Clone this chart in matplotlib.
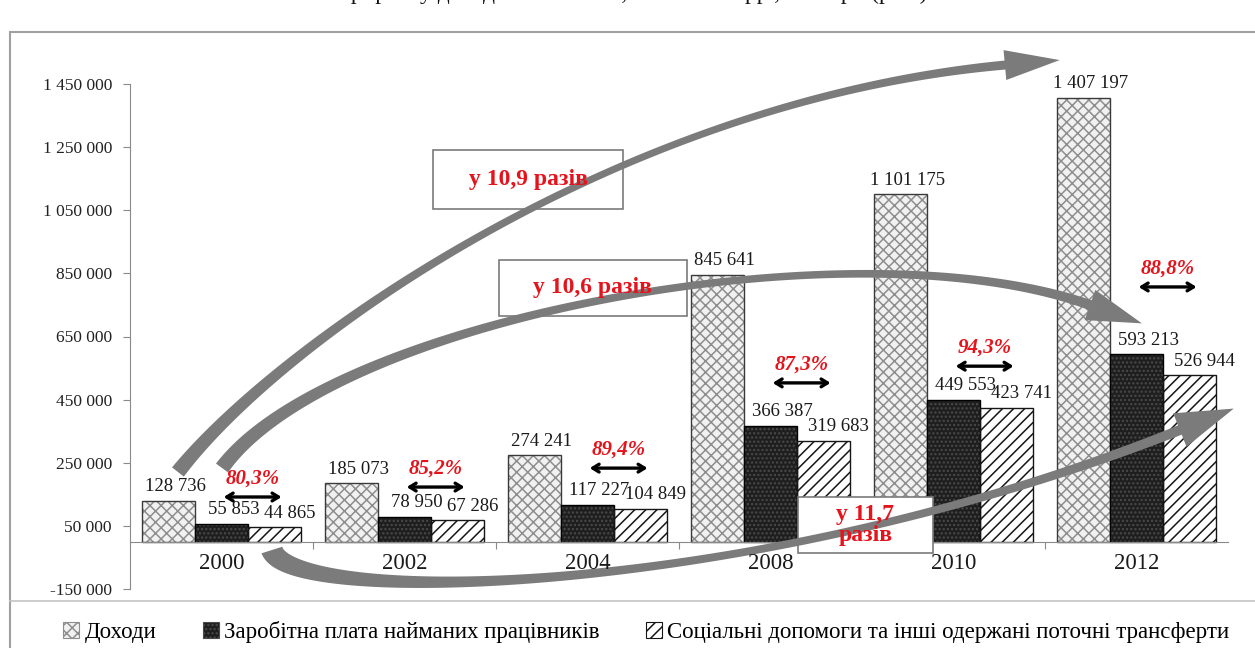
import numpy as np
import matplotlib
matplotlib.use("Agg")
import matplotlib.pyplot as plt
from matplotlib.patches import Rectangle, Polygon, Patch
from matplotlib.lines import Line2D

# ---- data (млн грн) ----
years = ["2000", "2002", "2004", "2008", "2010", "2012"]
income = [128736, 185073, 274241, 845641, 1101175, 1407197]
wages = [55853, 78950, 117227, 366387, 449553, 593213]
social = [44865, 67286, 104849, 319683, 423741, 526944]
series_names = ["Доходи",
                "Заробітна плата найманих працівників",
                "Соціальні допомоги та інші одержані поточні трансферти"]
y_ticks = [-150000, 50000, 250000, 450000, 650000, 850000, 1050000, 1250000, 1450000]

# vertical placement of the share markers (value units)
share_arrow_y = [141500, 173000, 233000, 503000, 556000, 807000]

SERIF = "Liberation Serif"
RED = "#e5141c"
GREY_ARROW = "#7b7b7b"


def fmt(v):
    return f"{v:,}".replace(",", " ")


def pct(a, b):
    return f"{a / b * 100:.1f}%".replace(".", ",")


def times(a, b):
    return f"{a / b:.1f}".replace(".", ",")


W, H = 1255, 648
fig = plt.figure(figsize=(W / 100, H / 100), dpi=100)
fig.patch.set_facecolor("white")
ax = fig.add_axes([130 / W, 1 - 589 / H, 1098 / W, 505 / H])
ax.set_xlim(-0.5, len(years) - 0.5)
ax.set_ylim(-150000, 1450000)
ax.set_facecolor("none")

# ---- bars ----
x = np.arange(len(years))
bw = 0.29
offsets = [-bw, 0.0, bw]
label_shift = [7, 12, 15]  # label nudges to the right, in points
styles = [
    dict(face="#f1f1f1", hatch="xxx", hcol="#8e8e8e", edge="#3a3a3a"),
    dict(face="#1e1e1e", hatch="....", hcol="#4a4a4a", edge="#000000"),
    dict(face="white", hatch="///", hcol="#161616", edge="#161616"),
]
plt.rcParams["hatch.linewidth"] = 1.1
for vals, off, st, dx in zip([income, wages, social], offsets, styles, label_shift):
    ax.bar(x + off, vals, bw, color=st["face"], edgecolor=st["hcol"],
           hatch=st["hatch"], linewidth=0, zorder=2)
    ax.bar(x + off, vals, bw, fill=False, edgecolor=st["edge"],
           linewidth=1.0, zorder=2.1)
    for xi, v in zip(x + off, vals):
        ax.annotate(fmt(v), (xi, v), xytext=(dx * 0.72, 4), textcoords="offset points",
                    ha="center", va="bottom", fontsize=13.5, family=SERIF,
                    color="#1a1a1a", zorder=6)

# ---- axes styling ----
for s in ["top", "right"]:
    ax.spines[s].set_visible(False)
ax.spines["left"].set_color("#8a8a8a")
ax.spines["bottom"].set_position(("data", 0))
ax.spines["bottom"].set_color("#8a8a8a")
ax.set_yticks(y_ticks)
ax.set_yticklabels([fmt(v) for v in y_ticks],
                   fontsize=12.5, family=SERIF, color="#222222")
ax.tick_params(axis="y", direction="out", length=5, color="#8a8a8a", pad=8)
ax.set_xticks(x[:-1] + 0.5)
ax.set_xticklabels([])
ax.tick_params(axis="x", direction="out", length=5, color="#8a8a8a")
for xi, lab in zip(x, years):
    ax.text(xi, -70000, lab, ha="center", va="center", fontsize=16.5,
            family=SERIF, color="#1a1a1a", zorder=6)

# ---- share markers (social / wages) ----
for xi, w_, s_, yy in zip(x, wages, social, share_arrow_y):
    cx = xi + 0.17
    ax.annotate("", xy=(cx - 0.158, yy), xytext=(cx + 0.158, yy),
                arrowprops=dict(arrowstyle="<->,head_length=0.45,head_width=0.28",
                                lw=2.4, color="black", shrinkA=0, shrinkB=0),
                zorder=6)
    ax.annotate(pct(s_, w_), (cx, yy), xytext=(0, 6), textcoords="offset points",
                ha="center", va="bottom", fontsize=15, family=SERIF,
                weight="bold", style="italic", color=RED, zorder=6)

# ---- growth boxes ----
boxes = [
    ((1.156, 1053960), (2.194, 1240890), "у " + times(income[-1], income[0]) + " разів"),
    ((1.516, 714950), (2.544, 892380), "у " + times(wages[-1], wages[0]) + " разів"),
    ((3.150, -35930), (3.888, 141500), "у " + times(social[-1], social[0]) + "\nразів"),
]
for (x0, y0), (x1, y1), txt in boxes:
    ax.add_patch(Rectangle((x0, y0), x1 - x0, y1 - y0, facecolor="white",
                           edgecolor="#7a7a7a", lw=1.2, zorder=3, clip_on=False))
    ax.text((x0 + x1) / 2, (y0 + y1) / 2, txt, ha="center", va="center",
            fontsize=17, family=SERIF, weight="bold", color=RED, zorder=7,
            linespacing=1.0)


# ---- curved growth arrows ----
def curved_arrow(pts, widths, head_len, head_w, zorder=4):
    P = ax.transData.transform(np.array(pts, dtype=float))
    P0, P1, P2, P3 = P
    t = np.linspace(0, 1, 240)[:, None]
    B = (1 - t) ** 3 * P0 + 3 * (1 - t) ** 2 * t * P1 + 3 * (1 - t) * t ** 2 * P2 + t ** 3 * P3
    dB = 3 * (1 - t) ** 2 * (P1 - P0) + 6 * (1 - t) * t * (P2 - P1) + 3 * t ** 2 * (P3 - P2)
    tang = dB / np.linalg.norm(dB, axis=1)[:, None]
    nrm = np.column_stack([-tang[:, 1], tang[:, 0]])
    a, b, c = widths
    tt = t[:, 0]
    w = a * (1 - tt) ** 2 + 2 * b * tt * (1 - tt) + c * tt ** 2
    left = B + nrm * (w[:, None] / 2)
    right = B - nrm * (w[:, None] / 2)
    tip = P3 + tang[-1] * head_len
    cl = P3 + nrm[-1] * head_w / 2
    cr = P3 - nrm[-1] * head_w / 2
    poly = np.vstack([left, cl, tip, cr, right[::-1]])
    poly = ax.transData.inverted().transform(poly)
    ax.add_patch(Polygon(poly, closed=True, facecolor=GREY_ARROW,
                         edgecolor="none", zorder=zorder, clip_on=False))


# income growth: 2000 -> 2012
curved_arrow([(-0.238, 220700), (0.320, 632000), (2.178, 1399000), (4.281, 1510000)],
             (15, 3, 9), 55, 30)
# wage growth
curved_arrow([(0.003, 233400), (0.593, 702300), (3.434, 1019100), (4.746, 749800)],
             (15, 3, 10), 55, 32)
# social transfers growth
curved_arrow([(0.276, -26400), (0.374, -206000), (2.888, -188000), (5.237, 353700)],
             (22, 2, 10), 58, 36)

# ---- legend ----
handles = [Patch(facecolor=st["face"], edgecolor=st["hcol"], hatch=st["hatch"], lw=0.8)
           for st in styles]
leg = fig.legend(handles, series_names, loc="center", bbox_to_anchor=(0.515, 1 - 632 / H),
                 ncol=3, frameon=False, handlelength=0.7, handleheight=0.7,
                 handletextpad=0.25, columnspacing=2.0,
                 prop=dict(family=SERIF, size=16.5))

# ---- chart frame and clipped caption ----
fig.patches.append(Rectangle((10 / W, -0.1), 1.2, 1 - 32 / H + 0.1, transform=fig.transFigure,
                             fill=False, edgecolor="#a0a0a0", lw=1.5))
fig.lines.append(Line2D([10 / W, 1], [1 - 601 / H] * 2, transform=fig.transFigure,
                        color="#c4c4c4", lw=1.2))
fig.text(0.476, 1 + 1 / H, "Темпи приросту доходів населення, 2000–2012 рр., млн грн (рис.)",
         ha="center", va="baseline", fontsize=17, family=SERIF, color="#111111")

fig.savefig("out.png", dpi=100, facecolor="white")
